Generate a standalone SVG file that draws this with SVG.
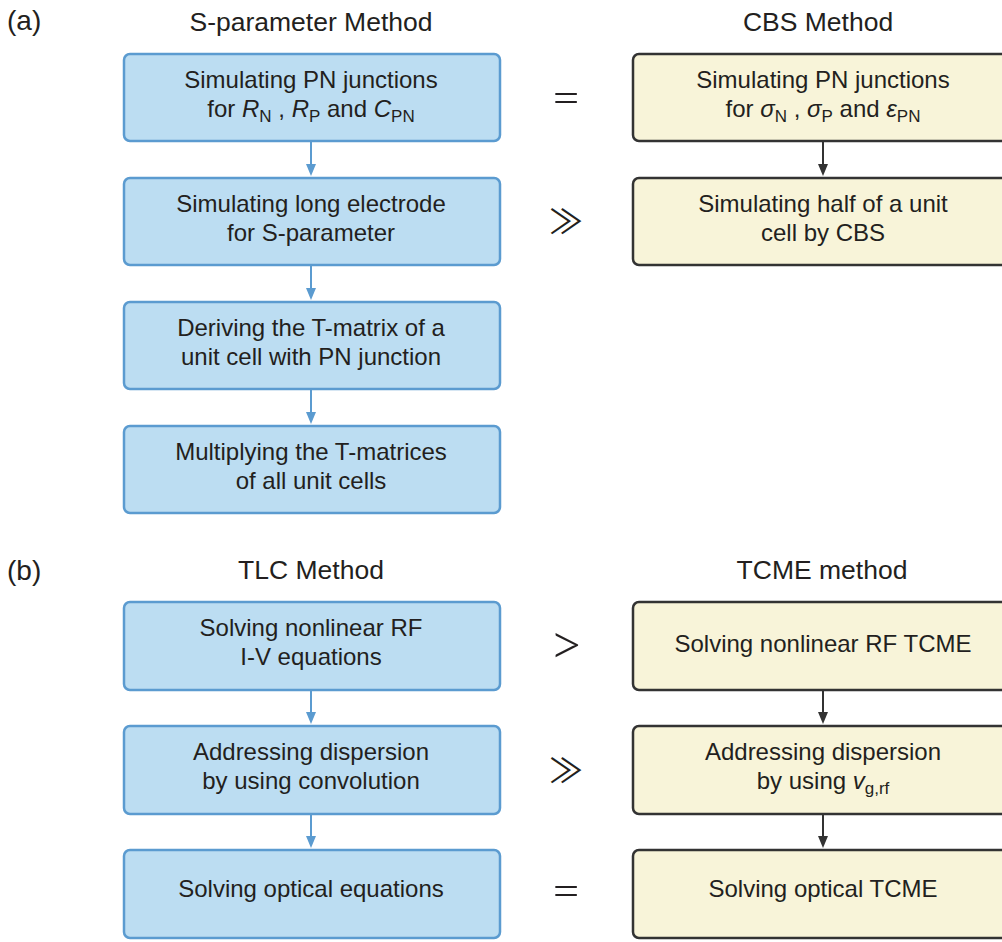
<svg xmlns="http://www.w3.org/2000/svg" width="1002" height="942" viewBox="0 0 1002 942">
<defs>
<style>
text{font-family:"Liberation Sans",Arial,sans-serif;fill:#231f20}
.t{font-size:24px;text-anchor:middle}
.h{font-size:26.5px;text-anchor:middle}
.lab{font-size:28px}
.sym{font-family:Lato,"DejaVu Sans",sans-serif;font-weight:300;text-anchor:middle}
.eq{font-size:52px}
.gt{font-size:60px}
.gg{font-family:"Noto Sans CJK JP","DejaVu Sans",sans-serif;font-weight:400;font-size:34px}
.b{fill:#bcddf2;stroke:#5b9bd0;stroke-width:2.5}
.y{fill:#f8f4d9;stroke:#333333;stroke-width:2.5}
.i{font-style:italic}
.s{font-size:17px}
.cb{stroke:#5b9bd0;stroke-width:2;fill:none}
.ck{stroke:#333333;stroke-width:2;fill:none}
</style>
</defs>
<text class="lab" x="7" y="30">(a)</text>
<text class="h" x="311" y="31">S-parameter Method</text>
<text class="h" x="818" y="31">CBS Method</text>
<text class="lab" x="7" y="580">(b)</text>
<text class="h" x="311" y="579">TLC Method</text>
<text class="h" x="822" y="579">TCME method</text>

<g id="a1"><rect class="b" x="124" y="54" width="376" height="87" rx="6"/><text class="t" x="311" y="88">Simulating PN junctions</text><text class="t" x="311" y="117">for <tspan class="i">R</tspan><tspan class="s" dy="5">N</tspan><tspan dy="-5"> , </tspan><tspan class="i">R</tspan><tspan class="s" dy="5">P</tspan><tspan dy="-5"> and </tspan><tspan class="i">C</tspan><tspan class="s" dy="5">PN</tspan></text></g>
<g id="a2"><rect class="b" x="124" y="178" width="376" height="87" rx="6"/><text class="t" x="311" y="212">Simulating long electrode</text><text class="t" x="311" y="241">for S-parameter</text></g>
<g id="a3"><rect class="b" x="124" y="302" width="376" height="87" rx="6"/><text class="t" x="311" y="336">Deriving the T-matrix of a</text><text class="t" x="311" y="365">unit cell with PN junction</text></g>
<g id="a4"><rect class="b" x="124" y="426" width="376" height="87" rx="6"/><text class="t" x="311" y="460">Multiplying the T-matrices</text><text class="t" x="311" y="489">of all unit cells</text></g>
<g id="c1"><rect class="y" x="633" y="54" width="380" height="87" rx="6"/><text class="t" x="823" y="88">Simulating PN junctions</text><text class="t" x="823" y="117">for <tspan class="i">σ</tspan><tspan class="s" dy="5">N</tspan><tspan dy="-5"> , </tspan><tspan class="i">σ</tspan><tspan class="s" dy="5">P</tspan><tspan dy="-5"> and </tspan><tspan class="i">ε</tspan><tspan class="s" dy="5">PN</tspan></text></g>
<g id="c2"><rect class="y" x="633" y="178" width="380" height="87" rx="6"/><text class="t" x="823" y="212">Simulating half of a unit</text><text class="t" x="823" y="241">cell by CBS</text></g>

<g id="b1"><rect class="b" x="124" y="602" width="376" height="88" rx="6"/><text class="t" x="311" y="636">Solving nonlinear RF</text><text class="t" x="311" y="665">I-V equations</text></g>
<g id="b2"><rect class="b" x="124" y="726" width="376" height="88" rx="6"/><text class="t" x="311" y="760">Addressing dispersion</text><text class="t" x="311" y="789">by using convolution</text></g>
<g id="b3"><rect class="b" x="124" y="850" width="376" height="88" rx="6"/><text class="t" x="311" y="897">Solving optical equations</text></g>
<g id="d1"><rect class="y" x="633" y="602" width="380" height="88" rx="6"/><text class="t" x="823" y="652">Solving nonlinear RF TCME</text></g>
<g id="d2"><rect class="y" x="633" y="726" width="380" height="88" rx="6"/><text class="t" x="823" y="760">Addressing dispersion</text><text class="t" x="823" y="789">by using <tspan class="i">v</tspan><tspan class="s" dy="5">g,rf</tspan></text></g>
<g id="d3"><rect class="y" x="633" y="850" width="380" height="88" rx="6"/><text class="t" x="823" y="897">Solving optical TCME</text></g>

<g id="relations">
<text class="sym eq" x="566" y="115">=</text>
<text class="sym gg" x="566" y="234">≫</text>
<text class="sym gt" x="566" y="665">&gt;</text>
<text class="sym gg" x="566" y="783">≫</text>
<text class="sym eq" x="566" y="908">=</text>
</g>

<g id="connectors">
<path class="cb" d="M311,141 V166"/><path d="M306,164 L316,164 L311,176 Z" fill="#5b9bd0"/>
<path class="cb" d="M311,265 V290"/><path d="M306,288 L316,288 L311,300 Z" fill="#5b9bd0"/>
<path class="cb" d="M311,389 V414"/><path d="M306,412 L316,412 L311,424 Z" fill="#5b9bd0"/>
<path class="cb" d="M311,690 V714"/><path d="M306,712 L316,712 L311,724 Z" fill="#5b9bd0"/>
<path class="cb" d="M311,814 V838"/><path d="M306,836 L316,836 L311,848 Z" fill="#5b9bd0"/>
<path class="ck" d="M823,141 V166"/><path d="M818,164 L828,164 L823,176 Z" fill="#333333"/>
<path class="ck" d="M823,690 V714"/><path d="M818,712 L828,712 L823,724 Z" fill="#333333"/>
<path class="ck" d="M823,814 V838"/><path d="M818,836 L828,836 L823,848 Z" fill="#333333"/>
</g>
</svg>
